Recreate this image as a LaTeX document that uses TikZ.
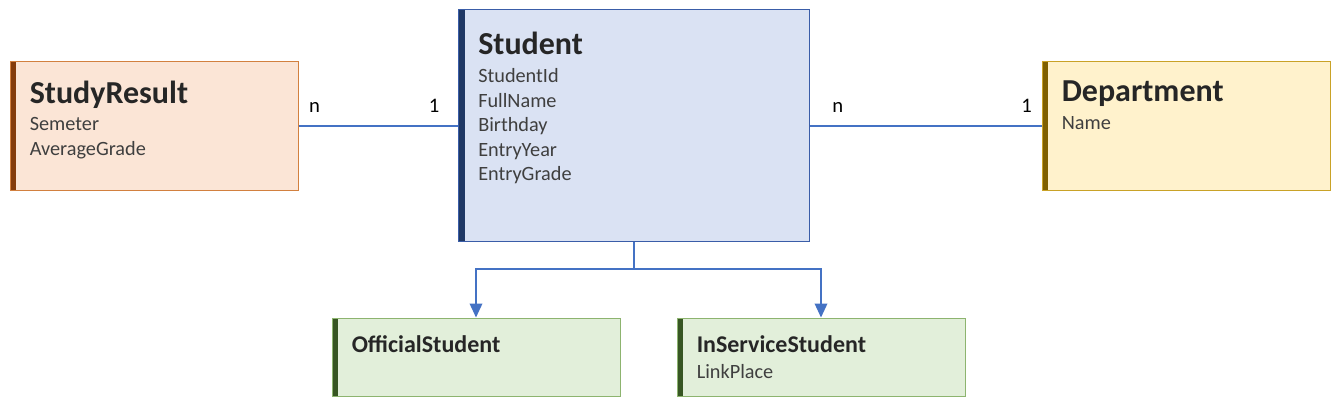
\documentclass[tikz,border=0pt]{standalone}
\usepackage{fontspec}
\setmainfont{Carlito}
\usepackage{tikz}
\usetikzlibrary{arrows.meta}
\usetikzlibrary{positioning}
\usepackage{xcolor}
\definecolor{resultfill}{HTML}{FBE5D6}
\definecolor{resultline}{HTML}{D2803F}
\definecolor{resultbar}{HTML}{843C0C}
\definecolor{studentfill}{HTML}{DAE2F3}
\definecolor{studentline}{HTML}{3A5DA8}
\definecolor{studentbar}{HTML}{1F3864}
\definecolor{deptfill}{HTML}{FFF2CC}
\definecolor{deptline}{HTML}{C9A227}
\definecolor{deptbar}{HTML}{7F6000}
\definecolor{subfill}{HTML}{E2EFDA}
\definecolor{subline}{HTML}{8DB46F}
\definecolor{subbar}{HTML}{375623}
\definecolor{relline}{HTML}{4472C4}
\definecolor{titlegray}{HTML}{262626}
\definecolor{attrgray}{HTML}{3F3F3F}
\newcommand{\enttitle}[1]{{\fontsize{24}{28}\selectfont\bfseries\color{titlegray}#1}}
\newcommand{\subtitle}[1]{{\fontsize{18}{21}\selectfont\bfseries\color{titlegray}#1}}
\tikzset{
  entity/.style n args={4}{draw=#2, fill=#1, line width=0.75pt, inner sep=0pt,
    minimum width=#4, path picture={\fill[#3] (path picture bounding box.north west)
    rectangle ([xshift=4.8pt]path picture bounding box.south west);}},
}

\begin{document}
\begin{tikzpicture}[x=0.75pt,y=-0.75pt]
\tikzstyle{attrs}=[inner sep=0pt, align=left, text=attrgray, font=\fontsize{15.2}{18.4}\selectfont]
\tikzstyle{card}=[inner sep=0pt, anchor=base, yshift=10pt, font=\fontsize{15.5}{18}\selectfont]
\tikzstyle{rel}=[draw=relline, line width=1.1pt]
\tikzstyle{isa}=[rel, -{Triangle[width=9.5pt,length=10.5pt]}]
\useasboundingbox (0,0) rectangle (1341,406);

% entities
\node[entity={resultfill}{resultline}{resultbar}{216pt}, minimum height=96pt] (result) at (154,126) {};
\node[entity={studentfill}{studentline}{studentbar}{263.25pt}, minimum height=173.25pt] (student) at (634,125.5) {};
\node[entity={deptfill}{deptline}{deptbar}{216pt}, minimum height=96pt] (dept) at (1186,126) {};
\node[entity={subfill}{subline}{subbar}{216pt}, minimum height=58.5pt] (official) at (476,357) {};
\node[entity={subfill}{subline}{subbar}{216pt}, minimum height=58.5pt] (inservice) at (821,357) {};

% texts
\node[attrs, below right=14.5pt and 15pt of result.north west] (result-txt)
  {\enttitle{StudyResult}\\[2pt] Semeter\\ AverageGrade};
\node[attrs, below right=16.5pt and 15pt of student.north west] (student-txt)
  {\enttitle{Student}\\[3pt] StudentId\\ FullName\\ Birthday\\ EntryYear\\ EntryGrade};
\node[attrs, below right=14.5pt and 15pt of dept.north west] (dept-txt)
  {\enttitle{Department}\\[2pt] Name};
\node[attrs, below right=13.5pt and 15pt of official.north west] (official-txt)
  {\subtitle{OfficialStudent}};
\node[attrs, below right=13.5pt and 15pt of inservice.north west] (inservice-txt)
  {\subtitle{InServiceStudent}\\[1pt] LinkPlace};

% relations
\draw[rel] (result.east) -- node[card, pos=0.1] {n} node[card, pos=0.85] {1} (result.east -| student.west);
\draw[rel] (dept.west -| student.east) -- node[card, pos=0.12] {n} node[card, pos=0.936] {1} (dept.west);
\coordinate (fork) at (634,269);
\draw[isa] (student.south) -- (fork) -| (official.north);
\draw[isa] (fork) -| (inservice.north);
\end{tikzpicture}
\end{document}
